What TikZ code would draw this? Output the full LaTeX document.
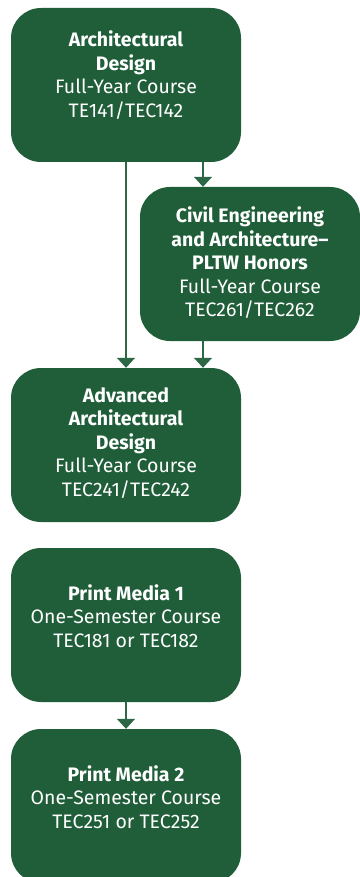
\documentclass[tikz,border=0pt]{standalone}
\usepackage{fontspec}
\setmainfont{Fira Sans}
\usetikzlibrary{arrows.meta}
\definecolor{BoxColor}{RGB}{32,94,58}
\definecolor{LinkColor}{RGB}{45,104,70}
\tikzset{
  course/.style={rectangle, rounded corners=30pt, fill=BoxColor, inner sep=0pt,
    minimum width=230pt, minimum height=154pt},
  coursetext/.style={text=white, align=center, inner sep=0pt,
    font=\fontsize{19.5}{23.5}\selectfont},
  link/.style={LinkColor, line width=1.5pt, -{Triangle[width=18pt,length=10pt]}}
}
\begin{document}
\begin{tikzpicture}[x=1pt, y=-1pt]
  \useasboundingbox (0,0) rectangle (359,877);
  % Courses
  \node[course] (arch) at (126,85) {};
  \node[course, minimum width=220pt] (civil) at (250,264) {};
  \node[course] (adv) at (126,445) {};
  \node[course] (print1) at (126,625) {};
  \node[course] (print2) at (126,806) {};
  % Course texts
  \node[coursetext] (archtext) at ([yshift=10pt]arch.center)
    {\textbf{Architectural}\\\textbf{Design}\\Full-Year Course\\TE141/TEC142};
  \node[coursetext] (civiltext) at ([yshift=1pt]civil.center)
    {\textbf{Civil Engineering}\\\textbf{and Architecture–}\\\textbf{PLTW Honors}\\Full-Year Course\\TEC261/TEC262};
  \node[coursetext] (advtext) at ([yshift=2pt]adv.center)
    {\textbf{Advanced}\\\textbf{Architectural}\\\textbf{Design}\\Full-Year Course\\TEC241/TEC242};
  \node[coursetext] (print1text) at ([yshift=9pt]print1.center)
    {\textbf{Print Media 1}\\One-Semester Course\\TEC181 or TEC182};
  \node[coursetext] (print2text) at ([yshift=9pt]print2.center)
    {\textbf{Print Media 2}\\One-Semester Course\\TEC251 or TEC252};
  % Links
  \coordinate (split) at (203,0);
  \draw[link] (arch.south) -- (adv.north);
  \draw[link] (arch.south -| split) -- (civil.north -| split);
  \draw[link] (civil.south -| split) -- (adv.north -| split);
  \draw[link] (print1.south) -- (print2.north);
\end{tikzpicture}
\end{document}
